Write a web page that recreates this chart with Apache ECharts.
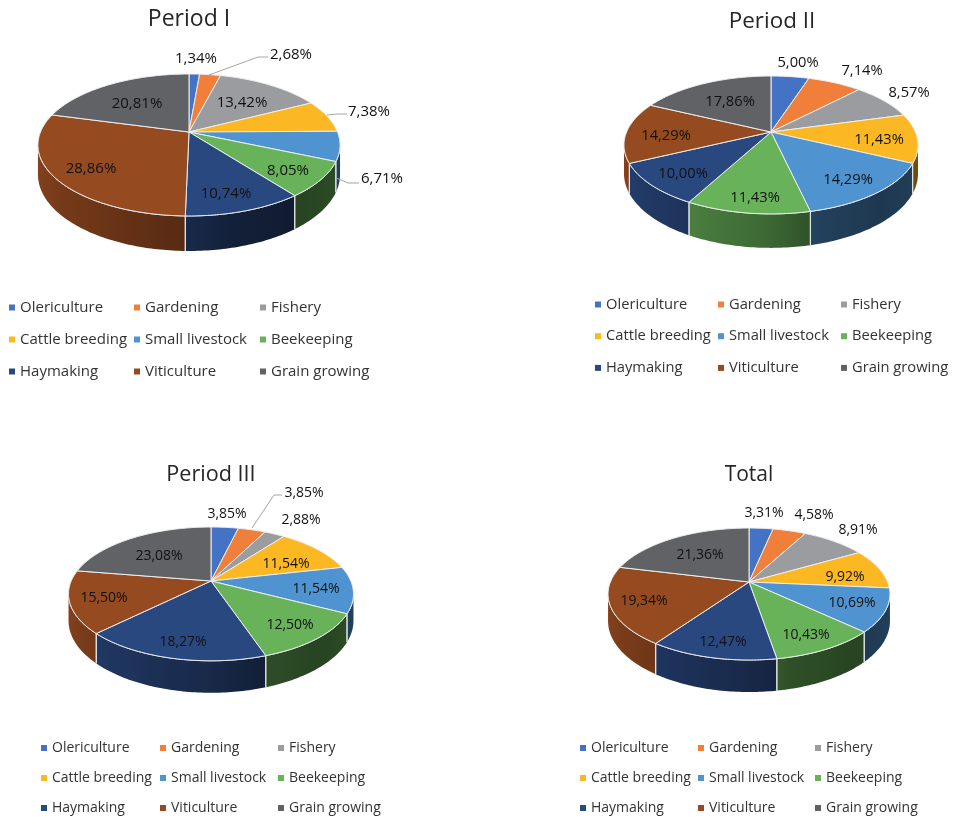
<!DOCTYPE html>
<html>
<head>
<meta charset="utf-8">
<style>html,body{margin:0;padding:0;background:#fff}#chart{width:953px;height:817px}</style>
<script src="https://cdn.jsdelivr.net/npm/echarts@6/dist/echarts.min.js"></script>
</head>
<body>
<div id="chart"></div>
<script>
// Share of each branch (%), per period
const categories = ['Olericulture','Gardening','Fishery','Cattle breeding','Small livestock','Beekeeping','Haymaking','Viticulture','Grain growing'];
const periodOne   = [1.34, 2.68, 13.42, 7.38, 6.71, 8.05, 10.74, 28.86, 20.81];
const periodTwo   = [5.00, 7.14, 8.57, 11.43, 14.29, 11.43, 10.00, 14.29, 17.86];
const periodThree = [3.85, 3.85, 2.88, 11.54, 11.54, 12.50, 18.27, 15.50, 23.08];
const totalShare  = [3.31, 4.58, 8.91, 9.92, 10.69, 10.43, 12.47, 19.34, 21.36];
const titles = ['Period I','Period II','Period III','Total'];
const palette = ['#4472c4','#f07f3c','#9a9c9f','#fbb823','#4f94d1','#68b35a','#2a4880','#964a20','#606265'];

const shares = [periodOne, periodTwo, periodThree, totalShare];

// Pie geometry: centre, horizontal radius, vertical radius, perspective strength, wall depth, type sizes
const pies = [
  {cx:189, cy:132, r:148.5, ry:68.6, k:.183, d:28.6, titleX:189, titleY:19, titleSize:23,   labelSize:15,   legendSize:15},
  {cx:771, cy:132, r:144.4, ry:66.5, k:.188, d:27.6, titleX:772, titleY:22, titleSize:22.4, labelSize:14.7, legendSize:14.7},
  {cx:211, cy:581, r:139.8, ry:64.4, k:.193, d:25.8, titleX:211, titleY:475, titleSize:21.6, labelSize:14,  legendSize:14},
  {cx:749, cy:582, r:138.6, ry:63.8, k:.182, d:26.2, titleX:749, titleY:475, titleSize:21,   labelSize:14,  legendSize:14}
];

// Label centres per pie, same order as categories
const labelSpots = [
  [[196,59],[291,55],[242,103],[369,112],[382,179],[288,171],[226,194],[91,169],[137,104]],
  [[798,63],[862,71],[909,93],[879,140],[848,180],[755,198],[683,174],[666,136],[730,102]],
  [[227,514],[304,493],[301,520],[286,564],[316,589],[290,625],[183,642],[104,598],[159,556]],
  [[764,513],[814,515],[858,530],[845,577],[852,603],[806,635],[723,642],[644,601],[700,555]]
];

// Leader lines for labels that sit away from their slice: [pie, category, route]
const leaders = [
  [0, 1, [[209,75],[258,57],[268,57]]],
  [0, 3, [[327,115],[337,114],[347,114]]],
  [0, 4, [[336,178],[348,183],[359,183]]],
  [2, 1, [[252,528],[274,495],[282,495]]]
];

// Legend columns per pie: swatch left edge and top
const legendColumns = [
  {x:[9,134,260],  y:300, step:31},
  {x:[595,718,841], y:297, step:30.7},
  {x:[41,160,278], y:741, step:30},
  {x:[580,698,815], y:741, step:30}
];

const FONT = '"Open Sans", "Noto Sans", sans-serif';

function project(p, theta, depth) {
  const u = Math.sin(theta), v = -Math.cos(theta);
  const s = 1 / (1 - p.k * v);
  return [p.cx + p.r * u * s, p.cy + p.ry * v * s + (depth ? p.d * s : 0)];
}

// Brightness of the wall against the top face, by direction around the pie (degrees)
const wallShade = [[90,.46],[140,.38],[165,.44],[181,.58],[210,.72],[260,.9],[280,.9]];
function shadeAt(deg) {
  for (let i = 1; i < wallShade.length; i++) {
    if (deg <= wallShade[i][0]) {
      const a = wallShade[i-1], b = wallShade[i];
      return a[1] + (b[1]-a[1]) * Math.max(0,(deg-a[0])/(b[0]-a[0]));
    }
  }
  return wallShade[wallShade.length-1][1];
}
function dim(hex, f) {
  const n = parseInt(hex.slice(1),16);
  return 'rgb('+[(n>>16)&255,(n>>8)&255,n&255].map(c=>Math.round(c*f)).join(',')+')';
}
function arc(a0, a1) {
  const n = Math.max(2, Math.ceil((a1-a0)/(Math.PI/180)));
  const out = [];
  for (let i = 0; i <= n; i++) out.push(a0 + (a1-a0)*i/n);
  return out;
}

function renderSlice(params, api) {
  const pieIndex = api.value(0), start = api.value(1), share = api.value(2), cat = params.seriesIndex;
  const p = pies[pieIndex], color = palette[cat];
  const sum = shares[pieIndex].reduce((a,b)=>a+b,0);
  const a0 = start/sum*2*Math.PI, a1 = (start+share)/sum*2*Math.PI;
  const children = [];

  // Side wall: only the part facing the viewer
  const limit = Math.acos(p.k);
  const w0 = Math.max(a0, Math.PI-limit), w1 = Math.min(a1, Math.PI+limit);
  if (w1 > w0) {
    const angles = arc(w0, w1);
    const upper = angles.map(t=>project(p,t,false));
    const lower = angles.map(t=>project(p,t,true)).reverse();
    const pts = upper.concat(lower);
    const xs = upper.map(q=>q[0]);
    const minX = Math.min.apply(null,xs), maxX = Math.max.apply(null,xs);
    const stops = [];
    angles.forEach((t,i)=>{
      if (i % 3 === 0 || i === angles.length-1) {
        stops.push({offset: maxX>minX ? (xs[i]-minX)/(maxX-minX) : 0, color: dim(color, shadeAt(t*180/Math.PI))});
      }
    });
    stops.sort((a,b)=>a.offset-b.offset);
    children.push({type:'polygon', z2:1, shape:{points:pts},
      style:{fill:{type:'linear',x:0,y:0,x2:1,y2:0,colorStops:stops}, stroke:null}});
    // Pale seam along the rim and at the slice boundaries
    children.push({type:'polyline', z2:5, shape:{points:upper},
      style:{fill:null, stroke:'#eef0f2', lineWidth:1}});
    [a0,a1].forEach(t=>{
      if (t >= Math.PI-limit && t <= Math.PI+limit) {
        children.push({type:'line', z2:5,
          shape:{x1:project(p,t,false)[0],y1:project(p,t,false)[1],x2:project(p,t,true)[0],y2:project(p,t,true)[1]},
          style:{stroke:'#e4e6e8', lineWidth:1}});
      }
    });
  }

  // Top face
  const rim = arc(a0, a1).map(t=>project(p,t,false));
  children.push({type:'polygon', z2:10, shape:{points:[[p.cx,p.cy]].concat(rim)},
    style:{fill:color, stroke:'#eceef0', lineWidth:1, lineJoin:'round'}});

  // Leader line
  leaders.forEach(l=>{
    if (l[0]===pieIndex && l[1]===cat) {
      children.push({type:'polyline', z2:15, shape:{points:l[2]}, style:{fill:null, stroke:'#a6a6a6', lineWidth:1}});
    }
  });

  // Value label
  const spot = labelSpots[pieIndex][cat];
  children.push({type:'text', z2:20, style:{
    x:spot[0], y:spot[1], text: share.toFixed(2).replace('.',',')+'%',
    fill:'#111111', font:p.labelSize+'px '+FONT, align:'center', verticalAlign:'middle'}});

  return {type:'group', children};
}

const series = categories.map((name,i)=>({
  type:'custom', name, coordinateSystem:'none', silent:true,
  itemStyle:{color:palette[i]},
  renderItem:renderSlice,
  dimensions:['pie','start','share'],
  data: shares.map((vals,pi)=>[pi, vals.slice(0,i).reduce((a,b)=>a+b,0), vals[i]])
}));

const legends = [];
legendColumns.forEach((col,pi)=>{
  col.x.forEach((x,c)=>{
    legends.push({
      left:x, top:col.y, orient:'vertical', selectedMode:false,
      icon:'rect', itemWidth:6, itemHeight:6, itemGap:col.step-14, padding:0,
      textStyle:{color:'#333333', fontFamily:FONT, fontSize:pies[pi].legendSize, lineHeight:14},
      data:[0,1,2].map(r=>categories[r*3+c])
    });
  });
});

const chart = echarts.init(document.getElementById('chart'), null, {renderer:'canvas'});
chart.setOption({
  animation:false,
  backgroundColor:'#ffffff',
  color:palette,
  title: pies.map((p,i)=>({
    text:titles[i], left:p.titleX, top:p.titleY, textAlign:'center', textVerticalAlign:'middle', padding:0,
    textStyle:{fontFamily:FONT, fontSize:p.titleSize, fontWeight:'normal', color:'#262626'}
  })),
  legend:legends,
  series
});
</script>
</body>
</html>
